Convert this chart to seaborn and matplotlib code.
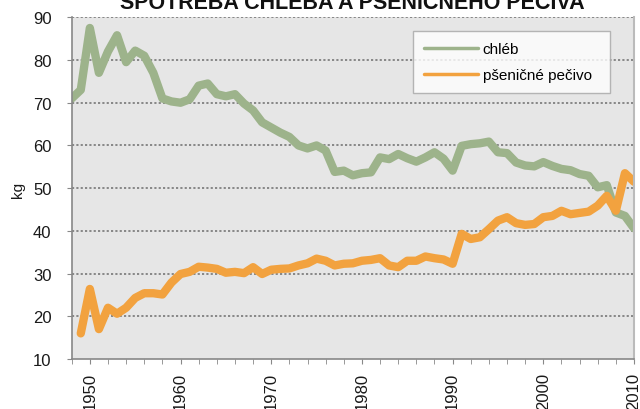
import numpy as np
import pandas as pd
import matplotlib
matplotlib.use("Agg")
import matplotlib.pyplot as plt
import seaborn as sns
from matplotlib.ticker import MultipleLocator, FixedLocator

years = list(range(1948, 2011))
chleb = [71, 73, 87.5, 77, 82, 85.8, 79.5, 82.2, 81, 77,
         71, 70.3, 70, 70.8, 74, 74.5, 72, 71.5, 72, 69.8,
         68.2, 65.4, 64.2, 63, 62, 60, 59.3, 60, 58.8, 53.8,
         54.1, 53, 53.5, 53.7, 57.2, 56.8, 58, 57, 56.2, 57.2,
         58.4, 56.9, 54.1, 59.9, 60.3, 60.5, 60.9, 58.4, 58.2, 56,
         55.3, 55.1, 56.1, 55.2, 54.5, 54.2, 53.3, 52.9, 50.2, 50.7,
         44.3, 43.5, 40.6]
pecivo = [np.nan, 16, 26.4, 17, 22, 20.6, 22, 24.3, 25.4, 25.4,
          25.1, 27.9, 29.9, 30.4, 31.6, 31.4, 31.1, 30.2, 30.4, 30.1,
          31.5, 29.9, 30.9, 31.1, 31.2, 31.9, 32.4, 33.5, 33, 31.9,
          32.3, 32.4, 33, 33.2, 33.6, 31.9, 31.5, 33, 33, 34,
          33.6, 33.3, 32.3, 39.3, 38.1, 38.5, 40.4, 42.4, 43.2, 41.8,
          41.4, 41.6, 43.2, 43.5, 44.7, 43.9, 44.2, 44.5, 45.9, 48.2,
          44.7, 53.5, 51.5]
series_names = ["chléb", "pšeničné pečivo"]
title = "SPOTŘEBA CHLEBA A PŠENIČNÉHO PEČIVA"
y_label = "kg"
decade_labels = [1950, 1960, 1970, 1980, 1990, 2000, 2010]

df = pd.concat([
    pd.DataFrame({"rok": years, "kg": chleb, "druh": series_names[0]}),
    pd.DataFrame({"rok": years, "kg": pecivo, "druh": series_names[1]}),
]).dropna()

plt.rcParams["font.family"] = ["Liberation Sans", "DejaVu Sans"]

fig = plt.figure(figsize=(6.4, 4.1), dpi=100)
ax = fig.add_axes([71.7 / 640, 50 / 410, 562.3 / 640, 341.7 / 410])
ax.set_facecolor("#E6E6E6")

palette = {series_names[0]: "#9DB38B", series_names[1]: "#F2A23F"}
sns.lineplot(data=df, x="rok", y="kg", hue="druh", palette=palette,
             linewidth=6, ax=ax, solid_joinstyle="round", solid_capstyle="round")

ax.set_xlim(1948, 2010)
ax.set_ylim(10, 90)
ax.yaxis.set_major_locator(MultipleLocator(10))
ax.xaxis.set_major_locator(FixedLocator(decade_labels))
ax.xaxis.set_minor_locator(MultipleLocator(2))
ax.set_xticklabels([str(d) for d in decade_labels], rotation=90)
ax.tick_params(axis="both", which="both", direction="out", length=3.6,
               color="#888888", labelsize=12, labelcolor="#1a1a1a")
ax.tick_params(axis="x", pad=5.5)
ax.tick_params(axis="y", pad=11)

ax.grid(False)
for v in range(20, 91, 10):
    ax.axhline(v, color="#808080", linestyle=(0, (1.2, 1.2)), linewidth=1.3, zorder=0.5)

for s in ["left", "bottom"]:
    ax.spines[s].set_color("#888888")
    ax.spines[s].set_linewidth(1.2)
ax.spines["top"].set_visible(False)
ax.spines["right"].set_color("#BBBBBB")
ax.spines["right"].set_linewidth(1.5)

ax.set_xlabel("")
ax.set_ylabel("")
fig.text(18 / 640, 1 - 190 / 410, y_label, rotation=90, ha="center", va="center",
         fontsize=11, color="#1a1a1a")

leg = ax.legend(loc="upper left", bbox_to_anchor=(0.607, 0.2, 0.350, 0.76),
                mode="expand", borderaxespad=0,
                frameon=True, fancybox=False, fontsize=11, handlelength=3.5,
                handletextpad=0.3, labelspacing=0.75, borderpad=0.75,
                title=None)
leg.get_frame().set_edgecolor("#A6A6A6")
leg.get_frame().set_facecolor("white")
leg.get_frame().set_linewidth(1.0)
for line in leg.get_lines():
    line.set_linewidth(2.5)

fig.text(0.55, 1 - 9 / 410, title, ha="center", va="baseline",
         fontsize=15.5, fontweight="bold", color="#111111")

fig.savefig("out.png", dpi=100)
